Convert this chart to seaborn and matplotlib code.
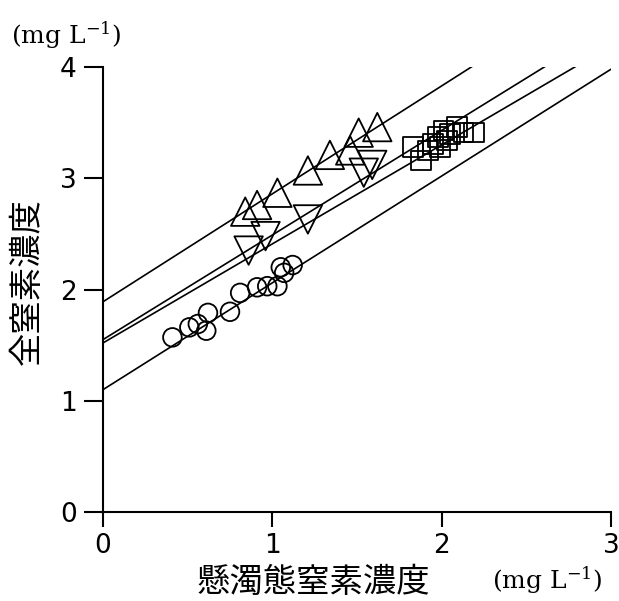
import numpy as np
import pandas as pd
import matplotlib
matplotlib.use("Agg")
import matplotlib.pyplot as plt
import seaborn as sns

# (mg L-1)
circle_x = [0.41, 0.51, 0.56, 0.61, 0.62, 0.75, 0.81, 0.91, 0.97, 1.03, 1.05, 1.07, 1.12]
circle_y = [1.57, 1.66, 1.69, 1.63, 1.79, 1.80, 1.97, 2.02, 2.03, 2.03, 2.20, 2.15, 2.22]

tri_up_x = [0.84, 0.91, 1.03, 1.21, 1.34, 1.46, 1.51, 1.62]
tri_up_y = [2.70, 2.76, 2.87, 3.07, 3.21, 3.25, 3.41, 3.46]

tri_down_x = [0.86, 0.96, 1.21, 1.54, 1.59]
tri_down_y = [2.35, 2.48, 2.63, 3.05, 3.12]

square_x = [1.83, 1.88, 1.92, 1.95, 1.98, 1.99, 2.01, 2.03, 2.05, 2.09, 2.13, 2.19]
square_y = [3.28, 3.16, 3.25, 3.31, 3.37, 3.28, 3.43, 3.34, 3.40, 3.46, 3.41, 3.41]

# regression lines: intercept, slope
line_names = ["up", "down_a", "down_b", "circle"]
intercepts = [1.89, 1.55, 1.52, 1.10]
slopes = [0.97, 0.94, 0.89, 0.96]

x_ticks = [0, 1, 2, 3]
y_ticks = [0, 1, 2, 3, 4]
x_label = "懸濁態窒素濃度"
y_label = "全窒素濃度"
unit = "(mg L$^{-1}$)"

sns.set_style("ticks", {"axes.edgecolor": "black", "text.color": "black",
                        "xtick.color": "black", "ytick.color": "black",
                        "axes.labelcolor": "black"})
plt.rcParams["font.family"] = ["Noto Sans CJK JP", "DejaVu Sans"]
plt.rcParams["mathtext.fontset"] = "dejavuserif"

fig = plt.figure(figsize=(6.19, 6.01), dpi=100)
ax = fig.add_axes([0.1664, 0.148, 0.8206, 0.7405])

grid = np.array([0.0, 3.0])
lines = pd.DataFrame({
    "x": np.tile(grid, len(line_names)),
    "y": np.concatenate([b + m * grid for b, m in zip(intercepts, slopes)]),
    "line": np.repeat(line_names, len(grid)),
})
sns.lineplot(data=lines, x="x", y="y", units="line", estimator=None,
             color="black", lw=1.2, ax=ax, legend=False)

groups = [
    (circle_x, circle_y, "o", 180),
    (tri_up_x, tri_up_y, "^", 420),
    (tri_down_x, tri_down_y, "v", 420),
    (square_x, square_y, "s", 200),
]
for gx, gy, mk, size in groups:
    sns.scatterplot(x=gx, y=gy, marker=mk, s=size, facecolor="none",
                    edgecolor="black", linewidth=1.3, ax=ax, legend=False)

ax.set_xlim(0, 3)
ax.set_ylim(0, 4)
ax.set_xticks(x_ticks)
ax.set_yticks(y_ticks)
ax.set_xlabel("")
ax.set_ylabel("")
sns.despine(ax=ax)
for s in ["left", "bottom"]:
    ax.spines[s].set_linewidth(1.5)
ax.tick_params(axis="y", length=14, width=1.5, pad=5, labelsize=19, colors="black")
ax.tick_params(axis="x", length=11, width=1.5, pad=4, labelsize=19, colors="black")
for lab in ax.get_xticklabels() + ax.get_yticklabels():
    lab.set_family("DejaVu Sans")

fig.text(27 / 619, 1 - 282 / 601, y_label, rotation=90, fontsize=24,
         ha="center", va="center", color="black")
fig.text(313 / 619, 1 - 582 / 601, x_label, fontsize=24, ha="center",
         va="center", color="black")
fig.text(547 / 619, 1 - 580 / 601, unit, fontsize=18, family="DejaVu Serif",
         ha="center", va="center", color="black")
fig.text(66 / 619, 1 - 35 / 601, unit, fontsize=18, family="DejaVu Serif",
         ha="center", va="center", color="black")

fig.savefig("out.png", dpi=100)
